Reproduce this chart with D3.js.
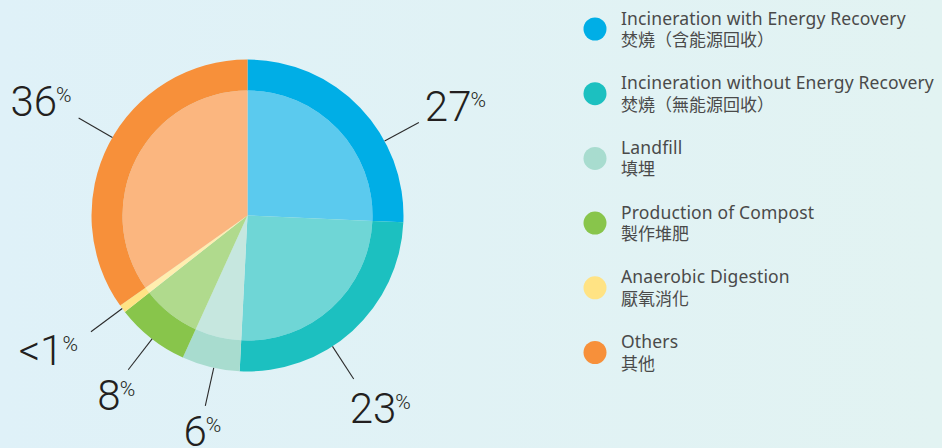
<!DOCTYPE html>
<html>
<head>
<meta charset="utf-8">
<script src="https://cdn.jsdelivr.net/npm/d3@7"></script>
<style>
  html, body { margin: 0; padding: 0; }
  body { width: 942px; height: 448px; overflow: hidden; }
</style>
</head>
<body>
<svg id="chart" width="942" height="448"></svg>
<script>
// ---- data ----
const categories = [
  "Incineration with Energy Recovery",
  "Incineration without Energy Recovery",
  "Landfill",
  "Production of Compost",
  "Anaerobic Digestion",
  "Others"
];
const categoriesZh = [
  "焚燒（含能源回收）",
  "焚燒（無能源回收）",
  "填埋",
  "製作堆肥",
  "厭氧消化",
  "其他"
];
// slice shares as drawn in the picture
const shares = [25.7, 25.1, 6.0, 7.6, 0.8, 34.8];
// printed labels
const labelTexts = ["27", "23", "6", "8", "<1", "36"];

// ---- styles / layout ----
const outerColors = ["#00aee6", "#1cc0c0", "#a8dccf", "#88c54b", "#ffe384", "#f7903a"];
const innerColors = ["#5bcaee", "#6fd6d6", "#c6e7df", "#b0da8d", "#ffeeaf", "#fbb67f"];
const leaderAngles = [61.5, 147, 192.5, 217.7, 233.4, 300];
const labelPlace = [
  {anchor: "start", dx: 6, dy: -1},
  {anchor: "start", dx: -4, dy: 44},
  {anchor: "middle", dx: -3, dy: 40},
  {anchor: "middle", dx: -12, dy: 40},
  {anchor: "end", dx: -13, dy: 33},
  {anchor: "end", dx: -7, dy: -2}
];

const svg = d3.select("#chart");
const W = 942, H = 448;

const defs = svg.append("defs");
const grad = defs.append("linearGradient").attr("id", "bg").attr("x1", 0).attr("x2", 1).attr("y1", 0).attr("y2", 0);
grad.append("stop").attr("offset", "0%").attr("stop-color", "#dff1f8");
grad.append("stop").attr("offset", "100%").attr("stop-color", "#e2f3f2");
svg.append("rect").attr("width", W).attr("height", H).attr("fill", "url(#bg)");

const cx = 247.5, cy = 215.5, R = 156, Rin = 125, Rlead = 195;
const g = svg.append("g").attr("transform", `translate(${cx},${cy})`);

const pie = d3.pie().sort(null).value(d => d);
const arcs = pie(shares);
const outerArc = d3.arc().innerRadius(Rin).outerRadius(R);
const innerArc = d3.arc().innerRadius(0).outerRadius(Rin);

g.selectAll("path.inner").data(arcs).join("path")
  .attr("class", "inner")
  .attr("d", innerArc)
  .attr("fill", (d, i) => innerColors[i]);
g.selectAll("path.outer").data(arcs).join("path")
  .attr("class", "outer")
  .attr("d", outerArc)
  .attr("fill", (d, i) => outerColors[i]);

const rad = a => a * Math.PI / 180;
const pt = (a, r) => [r * Math.sin(rad(a)), -r * Math.cos(rad(a))];

leaderAngles.forEach((a, i) => {
  const p0 = pt(a, R), p1 = pt(a, Rlead);
  g.append("line")
    .attr("x1", p0[0]).attr("y1", p0[1])
    .attr("x2", p1[0]).attr("y2", p1[1])
    .attr("stroke", "#2b2b2b").attr("stroke-width", 1.1);
  const lp = labelPlace[i];
  const t = g.append("text")
    .attr("x", p1[0] + lp.dx).attr("y", p1[1] + lp.dy)
    .attr("text-anchor", lp.anchor)
    .attr("fill", "#231f20")
    .style("font-family", "Roboto, 'Open Sans', sans-serif")
    .style("font-weight", 300);
  t.append("tspan").style("font-size", "42px").text(labelTexts[i]);
  t.append("tspan").style("font-size", "21px").attr("dx", -1).attr("dy", -14).text("%");
});

// ---- legend ----
const legX = 595, legY0 = 29, legStep = 64.7;
const leg = svg.append("g");
categories.forEach((c, i) => {
  const y = legY0 + i * legStep;
  leg.append("circle").attr("cx", legX).attr("cy", y).attr("r", 11.5).attr("fill", outerColors[i]);
  leg.append("text").attr("x", 621).attr("y", y - 4.5)
    .attr("fill", "#4a4a4a")
    .style("font-family", "'Noto Sans', 'Open Sans', sans-serif")
    .style("font-size", "17.5px")
    .style("letter-spacing", "0.15px")
    .text(c);
  leg.append("text").attr("x", 621).attr("y", y + 17)
    .attr("fill", "#4a4a4a")
    .style("font-family", "'Noto Sans CJK TC', 'Noto Sans CJK SC', sans-serif")
    .style("font-size", "17px")
    .text(categoriesZh[i]);
});
</script>
</body>
</html>
